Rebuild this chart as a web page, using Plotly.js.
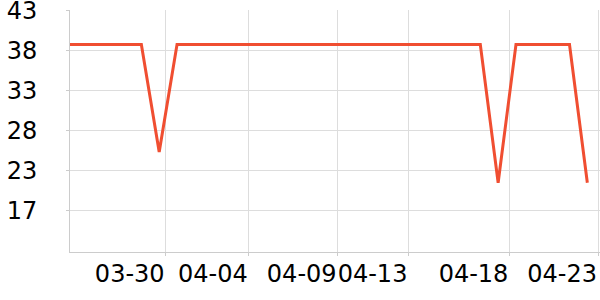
<!DOCTYPE html>
<html>
<head>
<meta charset="utf-8">
<script src="https://cdn.plot.ly/plotly-3.0.1.min.js"></script>
<style>html,body{margin:0;padding:0;background:#fff;}#chart{width:600px;height:300px;}</style>
</head>
<body>
<div id="chart"></div>
<script>
// Daily categories (index 0 .. 29)
const dates = ['03-25','03-26','03-27','03-28','03-29','03-30','03-31','04-01','04-02','04-03',
               '04-04','04-05','04-06','04-07','04-08','04-09','04-10','04-11','04-12','04-13',
               '04-14','04-15','04-16','04-17','04-18','04-19','04-20','04-21','04-22','04-23'];
const values = [39,39,39,39,39,25,39,39,39,39,
                39,39,39,39,39,39,39,39,39,39,
                39,39,39,39,21,39,39,39,39,21];
const xTickPos = [5.36, 10.02, 15.0, 18.97, 24.63, 29.6];
const xTickText = ['03-30','04-04','04-09','04-13','04-18','04-23'];
const yTickVals = [17.4, 22.6, 27.8, 33.0, 38.2, 43.4];
const yTickText = ['17','23','28','33','38','43'];

const xs = dates.map((d, i) => i);

Plotly.newPlot('chart', [{
  type: 'scatter',
  mode: 'lines',
  x: xs,
  y: values,
  text: dates,
  line: {color: '#f04e31', width: 3},
  hoverinfo: 'text+y'
}], {
  width: 600, height: 300,
  margin: {l: 70, r: 0, t: 10, b: 48},
  paper_bgcolor: '#fff', plot_bgcolor: '#fff',
  showlegend: false,
  font: {family: 'DejaVu Sans', size: 24, color: '#000'},
  xaxis: {
    range: [0, 29.71],
    tickmode: 'array', tickvals: xTickPos, ticktext: xTickText,
    tickangle: 0,
    ticks: 'outside', ticklen: 3, tickcolor: '#ccc',
    ticklabelposition: 'outside left',
    ticklabeloverflow: 'allow',
    showgrid: true, gridcolor: '#ddd', gridwidth: 1,
    showline: true, linecolor: '#ccc', linewidth: 1,
    zeroline: false,
    tickfont: {family: 'DejaVu Sans', size: 24, color: '#000'}
  },
  yaxis: {
    range: [11.98, 43.5],
    tickmode: 'array', tickvals: yTickVals, ticktext: yTickText,
    ticks: 'outside', ticklen: 3, tickcolor: '#ccc',
    ticklabelstandoff: 24,
    ticklabeloverflow: 'allow',
    showgrid: true, gridcolor: '#ddd', gridwidth: 1,
    showline: true, linecolor: '#ccc', linewidth: 1,
    zeroline: false,
    tickfont: {family: 'DejaVu Sans', size: 24, color: '#000'}
  }
}, {displayModeBar: false, staticPlot: true});
</script>
</body>
</html>
